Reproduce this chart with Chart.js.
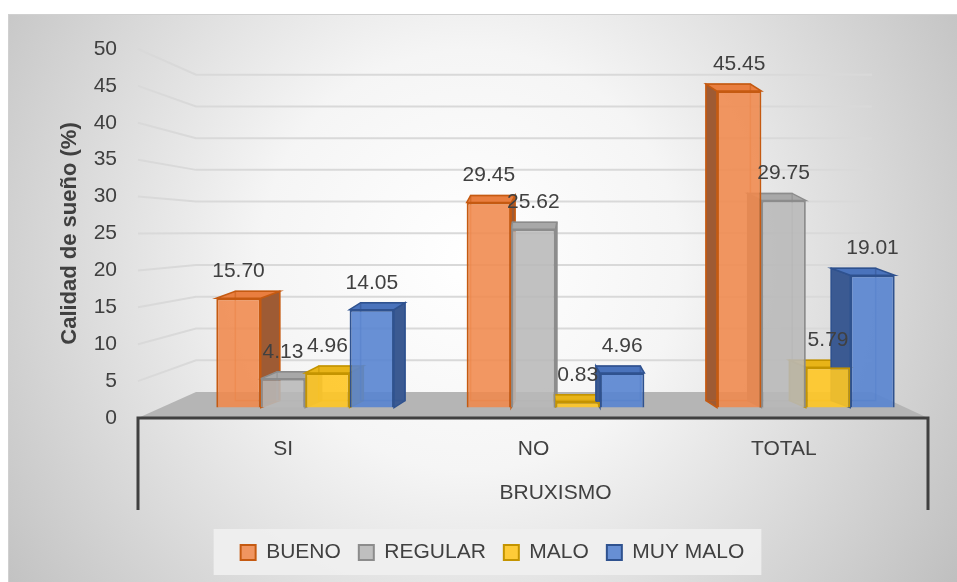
<!DOCTYPE html>
<html lang="es">
<head>
    <meta charset="UTF-8">
    <title>Calidad de sueño según bruxismo</title>
    <script src="https://cdn.jsdelivr.net/npm/chart.js"></script>
    <style>
        body { margin: 0; background: #fff; }
        canvas { display: block; }
    </style>
</head>
<body>
    <canvas id="chart" width="957" height="582"></canvas>

    <script>
        // Data
        const categories = ['SI', 'NO', 'TOTAL'];
        const seriesNames = ['BUENO', 'REGULAR', 'MALO', 'MUY MALO'];
        const bueno = [15.70, 29.45, 45.45];
        const regular = [4.13, 25.62, 29.75];
        const malo = [4.96, 0.83, 5.79];
        const muyMalo = [14.05, 4.96, 19.01];
        const yTickStep = 5;
        const yMax = 50;

        const FONT = '"Liberation Sans", Arial, sans-serif';
        const TEXT = '#404040';

        // front / border / side / top colours per series
        const palette = [
            { front: 'rgba(240,137,76,0.88)', border: '#C55A11', side: '#9E5B34', top: '#E97E3F' },
            { front: 'rgba(184,184,184,0.88)', border: '#8C8C8C', side: '#8E8E8E', top: '#A8A8A8' },
            { front: 'rgba(255,199,35,0.9)', border: '#C49400', side: '#C9A21E', top: '#E8B418' },
            { front: 'rgba(88,132,208,0.9)', border: '#2F528F', side: '#3B5A92', top: '#4A73BC' }
        ];

        const seriesValues = [bueno, regular, malo, muyMalo];

        // background, frame and legend box
        const backgroundPlugin = {
            id: 'background',
            afterLayout(chart) {
                // the legend sits a little right of the canvas centre
                const shift = 27;
                const lg = chart.legend;
                lg.left += shift;
                lg.right += shift;
                (lg.legendHitBoxes || []).forEach(b => { b.left += shift; });
            },
            beforeDraw(chart) {
                const ctx = chart.ctx;
                ctx.save();
                ctx.fillStyle = '#ffffff';
                ctx.fillRect(0, 0, chart.width, chart.height);
                const g = ctx.createRadialGradient(470, 260, 0, 470, 260, 600);
                g.addColorStop(0, '#ffffff');
                g.addColorStop(0.35, '#f5f5f5');
                g.addColorStop(1, '#bdbdbd');
                ctx.fillStyle = g;
                ctx.fillRect(8, 14, chart.width - 8, chart.height - 14);
                ctx.strokeStyle = '#d0d0d0';
                ctx.lineWidth = 1;
                ctx.strokeRect(8.5, 14.5, chart.width, chart.height);

                // legend box
                const boxes = chart.legend.legendHitBoxes;
                if (boxes && boxes.length) {
                    const l = boxes[0].left - 27;
                    const last = boxes[boxes.length - 1];
                    const r = last.left + last.width + 17;
                    ctx.fillStyle = 'rgba(240,240,240,0.9)';
                    ctx.fillRect(l, chart.legend.top + 5, r - l, 46);
                }
                ctx.restore();
            }
        };

        // 3D walls, floor, gridlines and bar sides
        const depthPlugin = {
            id: 'depth',
            beforeDatasetsDraw(chart) {
                const ctx = chart.ctx;
                const ys = chart.scales.y;
                const area = chart.chartArea;
                const frontLeft = area.left - 42;
                const frontRight = area.right - 3;
                const wallLeft = area.left + 16;
                const wallRight = area.right - 59;
                const floorBack = ys.bottom - 26;
                const ratio = 0.86;
                const backY = (fy) => floorBack - (ys.bottom - fy) * ratio;

                ctx.save();
                ctx.strokeStyle = '#d9d9d9';
                ctx.lineWidth = 2;
                ys.ticks.forEach(t => {
                    if (t.value === 0) return;
                    const fy = ys.getPixelForValue(t.value);
                    const by = backY(fy);
                    ctx.beginPath();
                    ctx.moveTo(frontLeft, fy);
                    ctx.lineTo(wallLeft, by);
                    ctx.lineTo(wallRight, by);
                    ctx.stroke();
                });

                // floor
                ctx.fillStyle = '#b5b5b5';
                ctx.beginPath();
                ctx.moveTo(wallLeft, floorBack);
                ctx.lineTo(wallRight, floorBack);
                ctx.lineTo(frontRight, ys.bottom);
                ctx.lineTo(frontLeft, ys.bottom);
                ctx.closePath();
                ctx.fill();

                // front frame of the category axis
                ctx.strokeStyle = '#404040';
                ctx.lineWidth = 3;
                ctx.beginPath();
                ctx.moveTo(frontLeft, ys.bottom + 92);
                ctx.lineTo(frontLeft, ys.bottom);
                ctx.lineTo(frontRight, ys.bottom);
                ctx.lineTo(frontRight, ys.bottom + 92);
                ctx.stroke();

                // bar side and top faces, plus faint back edges
                const cx = (area.left + area.right) / 2;
                chart.data.datasets.forEach((ds, i) => {
                    const meta = chart.getDatasetMeta(i);
                    const col = palette[i];
                    meta.data.forEach(el => {
                        const p = el.getProps(['x', 'y', 'base', 'width'], true);
                        const left = p.x - p.width / 2;
                        const right = p.x + p.width / 2;
                        const dx = (cx - p.x) * 0.06;
                        const dy = -7;
                        const edge = dx > 0 ? right : left;
                        ctx.lineWidth = 1.5;
                        ctx.strokeStyle = col.border;
                        ctx.fillStyle = col.side;
                        ctx.beginPath();
                        ctx.moveTo(edge, p.y);
                        ctx.lineTo(edge + dx, p.y + dy);
                        ctx.lineTo(edge + dx, p.base + dy);
                        ctx.lineTo(edge, p.base);
                        ctx.closePath();
                        ctx.fill();
                        ctx.stroke();
                        ctx.fillStyle = col.top;
                        ctx.beginPath();
                        ctx.moveTo(left, p.y);
                        ctx.lineTo(left + dx, p.y + dy);
                        ctx.lineTo(right + dx, p.y + dy);
                        ctx.lineTo(right, p.y);
                        ctx.closePath();
                        ctx.fill();
                        ctx.stroke();
                        ctx.globalAlpha = 0.5;
                        ctx.strokeRect(left + dx, p.y + dy, p.width, p.base - p.y);
                        ctx.globalAlpha = 1;
                    });
                });
                ctx.restore();
            },
            afterDatasetsDraw(chart) {
                const ctx = chart.ctx;
                ctx.save();
                ctx.fillStyle = TEXT;
                ctx.font = '21px ' + FONT;
                ctx.textAlign = 'center';
                ctx.textBaseline = 'middle';
                chart.data.datasets.forEach((ds, i) => {
                    const meta = chart.getDatasetMeta(i);
                    meta.data.forEach((el, j) => {
                        const p = el.getProps(['x', 'y'], true);
                        ctx.fillText(ds.data[j].toFixed(2), p.x, p.y - 27);
                    });
                });
                ctx.restore();
            }
        };

        const ctx = document.getElementById('chart').getContext('2d');
        new Chart(ctx, {
            type: 'bar',
            data: {
                labels: categories,
                datasets: seriesNames.map((name, i) => ({
                    label: name,
                    data: seriesValues[i],
                    yAxisID: 'yb',
                    backgroundColor: palette[i].front,
                    borderColor: palette[i].border,
                    borderWidth: 2,
                    barPercentage: 1,
                    categoryPercentage: 0.71
                }))
            },
            options: {
                responsive: false,
                animation: false,
                layout: { padding: { top: 49, right: 26, bottom: 9, left: 0 } },
                plugins: {
                    tooltip: { enabled: false },
                    legend: {
                        position: 'bottom',
                        labels: {
                            boxWidth: 15,
                            boxHeight: 15,
                            padding: 18,
                            color: TEXT,
                            font: { family: FONT, size: 21 }
                        }
                    }
                },
                scales: {
                    x: {
                        grid: { display: false },
                        border: { display: false },
                        ticks: {
                            color: TEXT,
                            font: { family: FONT, size: 21 },
                            padding: 11,
                            labelOffset: -22
                        },
                        title: {
                            display: true,
                            text: 'BRUXISMO',
                            color: TEXT,
                            font: { family: FONT, size: 21 },
                            padding: { top: 4, bottom: 18 }
                        },
                        afterFit(scale) { scale.height = 106; }
                    },
                    y: {
                        min: 0,
                        max: yMax,
                        grid: { display: false, drawTicks: false },
                        border: { display: false },
                        ticks: {
                            stepSize: yTickStep,
                            color: TEXT,
                            font: { family: FONT, size: 21 },
                            padding: 63
                        },
                        title: {
                            display: true,
                            text: 'Calidad de sueño (%)',
                            color: TEXT,
                            font: { family: FONT, size: 22, weight: 'bold' },
                            padding: { top: 57, bottom: 0 }
                        },
                        afterFit(scale) {
                            scale.width = 180;
                            scale.paddingTop = 0;
                            scale.paddingBottom = 0;
                        }
                    },
                    // hidden scale for the bars in the 3D front plane
                    yb: {
                        display: false,
                        min: -1.5,
                        max: 51.5
                    }
                }
            },
            plugins: [backgroundPlugin, depthPlugin]
        });
    </script>
</body>
</html>
